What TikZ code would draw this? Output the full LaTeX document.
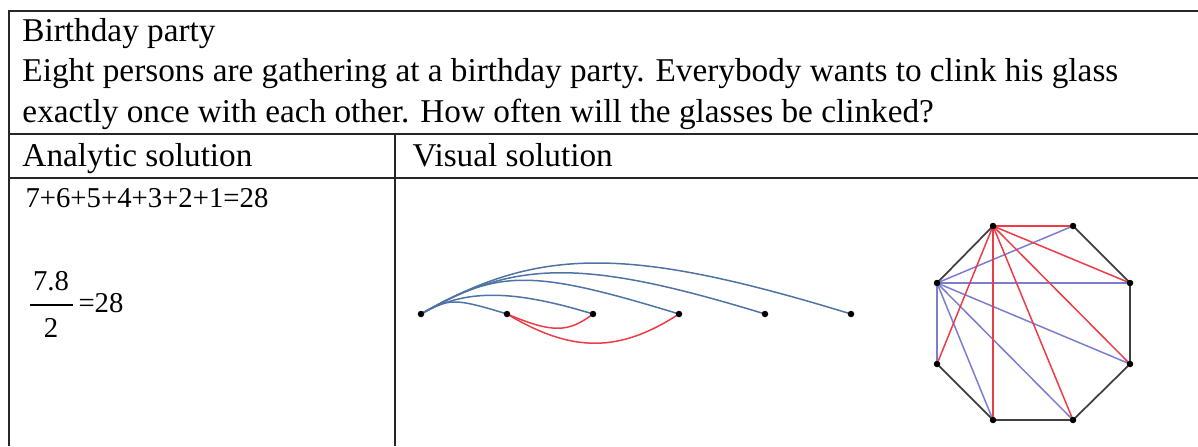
\documentclass[tikz,border=0pt]{standalone}
\usepackage{fontspec}
\setmainfont{Liberation Serif}
\usepackage{xcolor}
\usepackage{tikz}
\usetikzlibrary{backgrounds}

\definecolor{clinkblue}{RGB}{79,115,165}
\definecolor{clinkred}{RGB}{236,60,70}
\definecolor{diagblue}{RGB}{125,125,208}

\begin{document}
\begin{tikzpicture}[x=0.4pt, y=-0.4pt,
    every node/.style={font=\fontsize{13.3}{16}\selectfont, inner sep=0pt},
    cell/.style={anchor=base west},
    eq/.style={font=\fontsize{11.5}{14}\selectfont},
    tablerule/.style={line width=0.6pt, black!85},
    dot/.style={circle, fill=black, minimum size=2.6pt},
    arcline/.style={line width=0.6pt, clinkblue},
    redline/.style={line width=0.6pt, clinkred},
    side/.style={line width=0.7pt, black!75},
    diag/.style={line width=0.6pt, diagblue}]
  \useasboundingbox (0,0) rectangle (1198,446);

  % table
  \draw[tablerule] (1198,11) -- (9,11) -- (9,446);
  \draw[tablerule] (9,134) -- (1198,134);
  \draw[tablerule] (9,178) -- (1198,178);
  \draw[tablerule] (395,134) -- (395,446);

  \node[cell] (title) at (22,42) {Birthday party};
  \node[cell] (ask1) at (22,82) {Eight persons are gathering at a birthday party. Everybody wants to clink his glass};
  \node[cell] (ask2) at (22,122) {exactly once with each other. How often will the glasses be clinked?};
  \node[cell] (analytic) at (22,166) {Analytic solution};
  \node[cell] (visual) at (412,166) {Visual solution};

  % analytic solution
  \node[cell, eq] (sum) at (25,207) {7+6+5+4+3+2+1=28};
  \node[eq, anchor=base] (num) at (51,290) {7.8};
  \node[eq, anchor=base] (den) at (51,337) {2};
  \draw[line width=0.5pt] (30,305) -- (73,305);
  \node[cell, eq] (res) at (78,312) {=28};

  % persons in a row
  \foreach \n/\x in {1/421, 2/507, 3/593, 4/679, 5/765, 6/851}
    \node[dot] (p\n) at (\x,314) {};
  \begin{scope}[on background layer]
    \foreach \n/\h in {2/16, 3/25, 4/45, 5/55, 6/68}
      \draw[arcline] (p1.center) .. controls +({1.73*\h},-\h) and +({-3.27*\h},-\h) .. (p\n.center);
    \draw[redline] (p2.center) .. controls +(45,19) and +(-25,19) .. (p3.center);
    \draw[redline] (p2.center) .. controls +(65,39) and +(-60,39) .. (p4.center);
  \end{scope}

  % persons round the table
  \foreach \n/\x/\y in {1/993/226, 2/1073/226, 3/1130/283, 4/1130/364,
                        5/1073/420, 6/993/420, 7/937/364, 8/937/283}
    \node[dot] (o\n) at (\x,\y) {};
  \begin{scope}[on background layer]
    \draw[side] (o8.center) -- (o1.center);
    \draw[side] (o2.center) -- (o3.center) -- (o4.center) -- (o5.center) -- (o6.center) -- (o7.center);
    \foreach \t in {2,...,7}
      \draw[diag] (o8.center) -- (o\t.center);
    \foreach \t in {2,...,7}
      \draw[redline] (o1.center) -- (o\t.center);
  \end{scope}
\end{tikzpicture}
\end{document}
